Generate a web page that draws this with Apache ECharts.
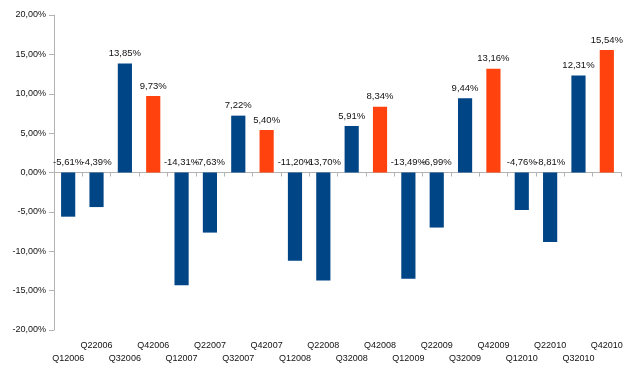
<!DOCTYPE html>
<html>
<head>
<meta charset="utf-8">
<script src="https://cdn.jsdelivr.net/npm/echarts@6/dist/echarts.min.js"></script>
<style>html,body{margin:0;padding:0;background:#fff}#c{width:635px;height:373px}</style>
</head>
<body>
<div id="c"></div>
<script>
const categories = ['Q12006','Q22006','Q32006','Q42006','Q12007','Q22007','Q32007','Q42007','Q12008','Q22008','Q32008','Q42008','Q12009','Q22009','Q32009','Q42009','Q12010','Q22010','Q32010','Q42010'];
const values = [-5.61,-4.39,13.85,9.73,-14.31,-7.63,7.22,5.40,-11.20,-13.70,5.91,8.34,-13.49,-6.99,9.44,13.16,-4.76,-8.81,12.31,15.54];
const yTicks = [-20,-15,-10,-5,0,5,10,15,20];
const blue = '#004586', orange = '#ff420e';
const fmt = v => v.toFixed(2).replace('.', ',') + '%';

const chart = echarts.init(document.getElementById('c'));
chart.setOption({
  animation: false,
  grid: { left: 54, right: 14, top: 15, bottom: 43 },
  xAxis: {
    type: 'category',
    data: categories,
    axisLine: { lineStyle: { color: '#b3b3b3' } },
    axisTick: { show: true, length: 4, lineStyle: { color: '#b3b3b3' } },
    axisLabel: {
      interval: 0, fontFamily: 'Liberation Sans, Arial', fontSize: 9, color: '#111',
      margin: 9, lineHeight: 13,
      formatter: (v, i) => (i % 2 === 0 ? '\n' + v : v)
    }
  },
  yAxis: {
    type: 'value', min: yTicks[0], max: yTicks[yTicks.length - 1], interval: 5,
    axisLine: { show: true, lineStyle: { color: '#b3b3b3' } },
    axisTick: { show: true, length: 5, lineStyle: { color: '#b3b3b3' } },
    splitLine: { show: false },
    axisLabel: { fontFamily: 'Liberation Sans, Arial', fontSize: 9, color: '#111', margin: 8, formatter: v => fmt(v) }
  },
  series: [{
    type: 'bar',
    barWidth: '50%',
    data: values.map((v, i) => ({ value: v, itemStyle: { color: i % 4 === 3 ? orange : blue } })),
    label: {
      show: true, position: 'top', distance: 5,
      fontFamily: 'Liberation Sans, Arial', fontSize: 9.5, color: '#111',
      formatter: p => fmt(p.value)
    }
  }]
});
</script>
</body>
</html>
